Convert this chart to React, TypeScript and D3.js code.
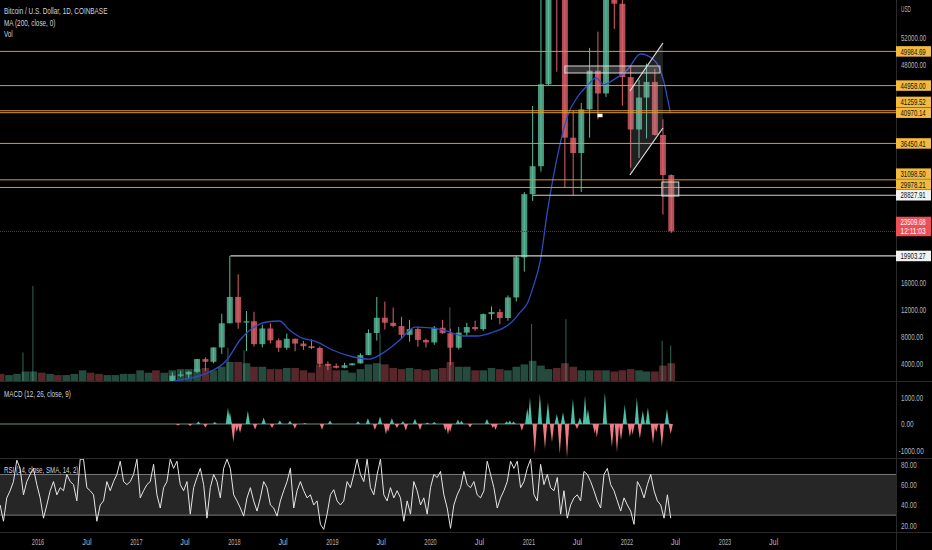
import React, { useLayoutEffect, useRef, useState } from 'react';
import * as d3 from 'd3';

// ---------------- DATA ----------------
// monthly OHLC (USD) + avg daily volume (K BTC)
const candles: [string, number, number, number, number, number][] = [
  ['2015-08', 284, 285, 199, 230, 6], ['2015-09', 230, 245, 225, 236, 5], ['2015-10', 236, 330, 236, 314, 6],
  ['2015-11', 314, 500, 300, 377, 8], ['2015-12', 377, 465, 350, 430, 8],
  ['2016-01', 430, 460, 365, 368, 7], ['2016-02', 368, 440, 365, 437, 6], ['2016-03', 437, 440, 395, 416, 5],
  ['2016-04', 416, 468, 412, 448, 5], ['2016-05', 448, 550, 440, 531, 6], ['2016-06', 531, 780, 530, 673, 9],
  ['2016-07', 673, 705, 610, 624, 7], ['2016-08', 624, 626, 480, 573, 6], ['2016-09', 573, 625, 565, 609, 5],
  ['2016-10', 609, 730, 605, 700, 5], ['2016-11', 700, 755, 685, 745, 6], ['2016-12', 745, 975, 745, 964, 6],
  ['2017-01', 964, 1150, 750, 965, 9], ['2017-02', 965, 1200, 940, 1190, 7], ['2017-03', 1190, 1300, 900, 1080, 9],
  ['2017-04', 1080, 1380, 1070, 1350, 7], ['2017-05', 1350, 2800, 1340, 2300, 9], ['2017-06', 2300, 3000, 2100, 2480, 10],
  ['2017-07', 2480, 2950, 1830, 2870, 10], ['2017-08', 2870, 4750, 2700, 4740, 10], ['2017-09', 4740, 5000, 2980, 4340, 11],
  ['2017-10', 4340, 6450, 4110, 6450, 9], ['2017-11', 6450, 11400, 5500, 10000, 12], ['2017-12', 10000, 19900, 10000, 13880, 16],
  ['2018-01', 13880, 17200, 9200, 10100, 16], ['2018-02', 10100, 11800, 5900, 10300, 15], ['2018-03', 10300, 11700, 6600, 6930, 12],
  ['2018-04', 6930, 9800, 6450, 9240, 12], ['2018-05', 9240, 9990, 7050, 7500, 10], ['2018-06', 7500, 7780, 5780, 6400, 10],
  ['2018-07', 6400, 8500, 6100, 7730, 11], ['2018-08', 7730, 7760, 5880, 7020, 11], ['2018-09', 7020, 7400, 6100, 6630, 9],
  ['2018-10', 6630, 7650, 6200, 6370, 7], ['2018-11', 6370, 6600, 3550, 4040, 14], ['2018-12', 4040, 4400, 3120, 3740, 13],
  ['2019-01', 3740, 4100, 3350, 3460, 9], ['2019-02', 3460, 4200, 3380, 3830, 9], ['2019-03', 3830, 4130, 3780, 4105, 7],
  ['2019-04', 4105, 5600, 4080, 5320, 10], ['2019-05', 5320, 9100, 5320, 8570, 14], ['2019-06', 8570, 13880, 7450, 10820, 15],
  ['2019-07', 10820, 13200, 9100, 10080, 14], ['2019-08', 10080, 12320, 9400, 9600, 11], ['2019-09', 9600, 10950, 7700, 8300, 10],
  ['2019-10', 8300, 10500, 7300, 9150, 11], ['2019-11', 9150, 9500, 6550, 7550, 10], ['2019-12', 7550, 7750, 6430, 7190, 9],
  ['2020-01', 7190, 9600, 6850, 9350, 10], ['2020-02', 9350, 10500, 8450, 8540, 11], ['2020-03', 8540, 9200, 3850, 6410, 16],
  ['2020-04', 6410, 9460, 6150, 8630, 12], ['2020-05', 8630, 10080, 8100, 9450, 12], ['2020-06', 9450, 10400, 8900, 9140, 9],
  ['2020-07', 9140, 11450, 8900, 11350, 9], ['2020-08', 11350, 12480, 10530, 11650, 11], ['2020-09', 11650, 12100, 9850, 10780, 10],
  ['2020-10', 10780, 14100, 10380, 13800, 9], ['2020-11', 13800, 19900, 13200, 19700, 12], ['2020-12', 19700, 29300, 17600, 28990, 14],
  ['2021-01', 28990, 41950, 28000, 33100, 17], ['2021-02', 33100, 58350, 32300, 45150, 13], ['2021-03', 45150, 61800, 45000, 58800, 10],
  ['2021-04', 58800, 64900, 47000, 57700, 11], ['2021-05', 57700, 59500, 30000, 37300, 15], ['2021-06', 37300, 41300, 28800, 35040, 12],
  ['2021-07', 35040, 42400, 29300, 41460, 9], ['2021-08', 41460, 50500, 37300, 47150, 9], ['2021-09', 47150, 52900, 40000, 43800, 9],
  ['2021-10', 43800, 67000, 43300, 61300, 9], ['2021-11', 61300, 69000, 53300, 57000, 8], ['2021-12', 57000, 59100, 42000, 46200, 9],
  ['2022-01', 46200, 47900, 32900, 38500, 10], ['2022-02', 38500, 45800, 34300, 43200, 9], ['2022-03', 43200, 48200, 37200, 45500, 8],
  ['2022-04', 45500, 47450, 37600, 37700, 8], ['2022-05', 37700, 40000, 26000, 31800, 13], ['2022-06', 31800, 31900, 23300, 23510, 15],
];

// single-day volume spikes (K BTC)
const volumeSpikes: [string, number][] = [
  ['2015-11-06', 24], ['2015-12-13', 80], ['2017-12-08', 28], ['2018-02-06', 26], ['2019-06-27', 40],
  ['2020-03-13', 62], ['2021-01-11', 48], ['2021-05-19', 52], ['2022-05-12', 34], ['2022-06-13', 30],
];

// MA(200)
const ma200: [string, number][] = [
  ['2017-03-01', 1000], ['2017-04-15', 1200], ['2017-06-12', 1650], ['2017-09-21', 2680], ['2017-12-04', 4600],
  ['2018-01-22', 7540], ['2018-03-10', 9300], ['2018-04-30', 10190], ['2018-06-18', 10340], ['2018-07-25', 9000],
  ['2018-09-01', 7980], ['2018-11-06', 7240], ['2019-01-01', 6070], ['2019-03-16', 5080], ['2019-05-19', 4740],
  ['2019-07-07', 5620], ['2019-09-09', 7540], ['2019-11-04', 9450], ['2020-01-10', 9300], ['2020-03-03', 8860],
  ['2020-05-02', 8130], ['2020-06-23', 8130], ['2020-08-22', 8720], ['2020-09-27', 9300], ['2020-10-25', 10030],
  ['2020-11-29', 11600], ['2020-12-27', 13000], ['2021-01-17', 15350], ['2021-02-13', 19300], ['2021-03-10', 26200],
  ['2021-04-02', 31550], ['2021-04-28', 36500], ['2021-05-24', 40400], ['2021-07-01', 43300], ['2021-08-07', 44950],
  ['2021-09-08', 46100], ['2021-10-06', 45100], ['2021-11-12', 45800], ['2022-01-03', 47300], ['2022-02-21', 49600],
  ['2022-04-10', 48800], ['2022-05-13', 46300], ['2022-06-12', 40900],
];

// MACD histogram peaks
const macdHist: [string, number][] = [
  ['2017-06-05', -60], ['2017-07-20', -80], ['2017-08-20', 90], ['2017-09-15', -130], ['2017-10-20', 80],
  ['2017-12-08', 620], ['2017-12-15', 450], ['2017-12-28', -690], ['2018-01-10', -300], ['2018-01-22', -340],
  ['2018-02-20', 500], ['2018-03-19', -210], ['2018-04-20', 250], ['2018-05-21', -150], ['2018-06-19', 130],
  ['2018-07-27', 120], ['2018-08-14', -180], ['2018-09-20', 40], ['2018-11-23', -220], ['2018-12-23', 130],
  ['2019-04-06', 100], ['2019-05-13', 220], ['2019-06-08', -230], ['2019-06-27', 280], ['2019-07-19', -400],
  ['2019-07-27', -300], ['2019-08-10', 220], ['2019-08-29', -150], ['2019-09-20', 100], ['2019-10-01', -250],
  ['2019-11-04', 200], ['2019-11-23', -230], ['2019-12-20', 60], ['2020-01-15', 80], ['2020-02-25', -250],
  ['2020-03-06', -400], ['2020-03-14', -300], ['2020-04-12', 170], ['2020-04-25', 120], ['2020-05-27', -130],
  ['2020-07-29', 190], ['2020-08-20', -150], ['2020-08-30', -230], ['2020-10-10', 100], ['2020-10-22', 130],
  ['2020-11-05', 90], ['2020-12-06', -250], ['2020-12-26', 600], ['2021-01-05', 1000], ['2021-01-23', -1120],
  ['2021-02-11', 1150], ['2021-03-02', -940], ['2021-03-13', 840], ['2021-03-28', -690], ['2021-04-15', 380],
  ['2021-04-26', -1130], ['2021-05-08', 440], ['2021-05-23', -1280], ['2021-06-14', 950], ['2021-06-29', -190],
  ['2021-07-10', 250], ['2021-07-29', 1080], ['2021-08-09', 560], ['2021-09-03', -350], ['2021-09-11', -500],
  ['2021-10-11', 1200], ['2021-11-06', -880], ['2021-11-25', -1070], ['2021-12-10', -600], ['2021-12-24', 730],
  ['2022-01-12', -500], ['2022-01-22', -400], ['2022-02-07', 1000], ['2022-02-18', -560], ['2022-03-01', 500],
  ['2022-03-20', 630], ['2022-04-08', -750], ['2022-04-20', -300], ['2022-05-11', -880], ['2022-05-30', 570],
  ['2022-06-13', -380],
];

// RSI sampled at even intervals from RSI_START to RSI_END
const RSI_START = '2015-08-13';
const RSI_END = '2022-06-13';
const rsiValues: number[] = [
  40, 24, 47, 54, 63, 84, 76, 50, 63, 70, 76, 60, 47, 27, 40, 54, 63, 50, 57, 54, 70, 63, 60, 44, 85, 85, 57, 54, 50, 24,
  40, 44, 63, 54, 63, 70, 83, 63, 60, 63, 70, 85, 47, 54, 60, 63, 80, 50, 37, 57, 63, 85, 76, 83, 60, 54, 63, 31, 57, 67,
  76, 60, 27, 57, 70, 63, 47, 76, 85, 76, 50, 44, 37, 29, 47, 57, 44, 34, 47, 63, 57, 40, 37, 29, 44, 54, 63, 76, 37, 54,
  63, 54, 47, 50, 40, 44, 21, 16, 31, 50, 55, 44, 40, 44, 63, 57, 70, 85, 70, 63, 85, 57, 50, 70, 85, 50, 44, 57, 47, 54,
  47, 24, 44, 31, 63, 54, 40, 47, 31, 57, 70, 67, 73,
  50, 37, 17, 40, 50, 57, 73, 60, 57, 63, 50, 47, 54, 83, 70, 57, 37, 47, 54, 63, 83, 76, 83, 57, 63, 76, 85, 50, 44, 80,
  60, 70, 57, 54, 67, 31, 54, 27, 40, 47, 50, 44, 73, 70, 63, 54, 44, 37, 70, 76, 60, 54, 44, 34, 47, 40, 34, 21, 63, 57,
  47, 60, 70, 54, 44, 40, 27, 50, 27,
];

// horizontal level drawings
const orangeLevels: number[] = [49984.69, 44958.0, 41259.52, 40970.14, 36450.41, 31098.5, 29978.21];
const whiteLevels: [number, string][] = [[28827.91, '2021-01-16'], [19903.27, '2017-12-17']];
const lastPrice = 23509.68;
const countdown = '12:11:03';
const priceTicks = [4000, 8000, 12000, 16000, 20000, 24000, 28000, 32000, 36000, 40000, 44000, 48000, 52000];
const macdTicks = [1000, 0, -1000];
const rsiTicks = [80, 60, 40, 20];
const timeTicks: [string, string][] = [
  ['2016-01-01', '2016'], ['2016-07-01', 'Jul'], ['2017-01-01', '2017'], ['2017-07-01', 'Jul'],
  ['2018-01-01', '2018'], ['2018-07-01', 'Jul'], ['2019-01-01', '2019'], ['2019-07-01', 'Jul'],
  ['2020-01-01', '2020'], ['2020-07-01', 'Jul'], ['2021-01-01', '2021'], ['2021-07-01', 'Jul'],
  ['2022-01-01', '2022'], ['2022-07-01', 'Jul'], ['2023-01-01', '2023'], ['2023-07-01', 'Jul'],
];
// rectangle drawings [start, end, top price, bottom price]
const boxes: [string, string, number, number][] = [
  ['2021-05-15', '2022-05-04', 47840, 46810],
  ['2022-05-11', '2022-07-13', 30780, 28720],
];
// parallel channel: [start, end, upper start, upper end, lower start, lower end]
const channel: [string, string, number, number, number, number] = ['2022-01-12', '2022-05-15', 44160, 51220, 31810, 38720];
const flagMark: [string, number] = ['2021-09-21', 40600];

// ---------------- LAYOUT ----------------
const W = 932, H = 550;
const AX = 896;
const P_TOP = 0, P_BOT = 381;
const M_TOP = 382, M_BOT = 458;
const R_TOP = 459, R_BOT = 532;
const FONT = "'Liberation Sans', Arial, sans-serif";
const UP = '#5bbb9c', DN = '#dd626b';
const ORANGE = '#d9992f', ORANGE_LBL = '#f3bb3e';
const TXT = '#b2b5be';
const FS = 9;

const parse = d3.timeParse('%Y-%m-%d');
const D = (s: string) => parse(s) as Date;

// condensed text: glyphs are scaled horizontally so the string takes s.length * k pixels
function T(props: { x: number; y: number; s: string; k?: number; fill?: string; anchor?: string; size?: number }) {
  const { x, y, s, k = 3.15, fill, anchor, size = FS } = props;
  const ref = useRef<SVGTextElement>(null);
  const [sx, setSx] = useState(0.68);
  useLayoutEffect(() => {
    const el = ref.current;
    if (el) {
      const L = el.getComputedTextLength();
      if (L > 0) setSx((s.length * k) / L);
    }
  }, [s, k, size]);
  return (
    <text ref={ref} transform={`translate(${x},${y}) scale(${sx},1)`} fill={fill} fontSize={size}
      textAnchor={anchor as any}>{s}</text>
  );
}

export default function App() {
  const x = d3.scaleTime().domain([D('2016-01-01'), D('2023-01-01')]).range([38, 725]);
  const yP = d3.scaleLinear().domain([0, 57544]).range([391.3, 0]);
  const yV = d3.scaleLinear().domain([0, 80]).range([P_BOT, 286]);
  const yM = d3.scaleLinear().domain([-1000, 1000]).range([450.5, 397.5]);
  const yR = d3.scaleLinear().domain([20, 80]).range([525.3, 464.3]);

  const monthMid = (m: string) => D(m + '-15');
  const bodyW = 6;

  const maLine = d3.line<[string, number]>().x(d => x(D(d[0]))).y(d => yP(d[1])).curve(d3.curveMonotoneX)(ma200) || '';

  const t0 = D(RSI_START).getTime(), t1 = D(RSI_END).getTime();
  const n = rsiValues.length;
  const rsiPath = d3.line<number>()
    .x((_, i) => x(new Date(t0 + (i * (t1 - t0)) / (n - 1))))
    .y(d => yR(d))(rsiValues) || '';

  // label layout (collision avoidance bottom-up)
  type Lbl = { v: number; kind: 'o' | 'w'; y: number; h: number };
  const lbls: Lbl[] = [
    ...orangeLevels.map(v => ({ v, kind: 'o' as const, y: yP(v), h: 10.5 })),
    ...whiteLevels.map(([v]) => ({ v, kind: 'w' as const, y: yP(v), h: 10.5 })),
  ].sort((a, b) => b.y - a.y);
  const redTop = yP(lastPrice) - 14.7;
  const redH = 19.5;
  let floor = redTop;
  for (const l of lbls) {
    if (l.y < yP(lastPrice)) {
      const maxC = floor - l.h / 2 - 0.3;
      if (l.y > maxC) l.y = maxC;
      floor = l.y - l.h / 2;
    }
  }
  const occupied: [number, number][] = [
    ...lbls.map(l => [l.y - l.h / 2, l.y + l.h / 2] as [number, number]),
    [redTop, redTop + redH],
  ];
  const free = (yy: number) => occupied.every(([a, b]) => yy + 3 < a || yy - 3 > b);

  const dayMs = 86400000;
  const hw = 8 * dayMs;

  return (
    <svg width={W} height={H} style={{ position: 'fixed', left: 0, top: 0, background: '#000', fontFamily: FONT }}>
      <defs>
        <clipPath id="cp"><rect x={0} y={P_TOP} width={AX} height={P_BOT - P_TOP} /></clipPath>
        <clipPath id="cm"><rect x={0} y={M_TOP} width={AX} height={M_BOT - M_TOP} /></clipPath>
        <clipPath id="cr"><rect x={0} y={R_TOP} width={AX} height={R_BOT - R_TOP} /></clipPath>
      </defs>
      <rect x={0} y={0} width={W} height={H} fill="#000" />

      {/* PRICE PANE */}
      <g clipPath="url(#cp)">
        {candles.map(([m, o, , , c, v]) => {
          const cx = x(monthMid(m));
          return <rect key={'v' + m} x={cx - 3.8} width={7.6} y={yV(v)} height={P_BOT - yV(v)} fill={c >= o ? UP : DN} opacity={0.4} />;
        })}
        {volumeSpikes.map(([d, v]) => (
          <line key={'s' + d} x1={x(D(d))} x2={x(D(d))} y1={yV(v)} y2={P_BOT} stroke={UP} strokeOpacity={0.55} strokeWidth={1} />
        ))}
        {candles.map(([m, o, h, l, c]) => {
          const cx = x(monthMid(m));
          const col = c >= o ? UP : DN;
          const top = yP(Math.max(o, c));
          return (
            <g key={'c' + m}>
              <line x1={cx} x2={cx} y1={yP(h)} y2={yP(l)} stroke={col} strokeWidth={1} />
              <rect x={cx - bodyW / 2} width={bodyW} y={top} height={Math.max(1, Math.abs(yP(o) - yP(c)))} fill={col} fillOpacity={0.8} />
            </g>
          );
        })}
        <path d={maLine} fill="none" stroke="#2d4cc0" strokeWidth={1.3} />

        {orangeLevels.map(v => (
          <line key={'o' + v} x1={0} x2={AX} y1={yP(v)} y2={yP(v)} stroke={ORANGE} strokeWidth={1} />
        ))}
        {whiteLevels.map(([v, d]) => (
          <line key={'w' + v} x1={x(D(d))} x2={AX} y1={yP(v)} y2={yP(v)} stroke="#cfcfcf" strokeWidth={1.2} />
        ))}
        <line x1={0} x2={AX} y1={yP(lastPrice)} y2={yP(lastPrice)} stroke="#8a2a2e" strokeWidth={1} strokeDasharray="1 1" />

        {boxes.map(([s, e, top, bot]) => (
          <rect key={'b' + s} x={x(D(s))} y={yP(top)} width={x(D(e)) - x(D(s))} height={yP(bot) - yP(top)}
            fill="rgba(180,180,180,0.28)" stroke="#d8d8d8" strokeWidth={1} />
        ))}
        {(() => {
          const [s, e, u0, u1, l0, l1] = channel;
          const xs = x(D(s)), xe = x(D(e));
          return (
            <g>
              <path d={`M${xs},${yP(u0)}L${xe},${yP(u1)}L${xe},${yP(l1)}L${xs},${yP(l0)}Z`} fill="rgba(160,160,160,0.2)" />
              <line x1={xs} y1={yP(u0)} x2={xe} y2={yP(u1)} stroke="#e0e0e0" strokeWidth={1.2} />
              <line x1={xs} y1={yP(l0)} x2={xe} y2={yP(l1)} stroke="#e0e0e0" strokeWidth={1.2} />
            </g>
          );
        })()}
        <rect x={x(D(flagMark[0])) - 2} y={yP(flagMark[1]) - 1.5} width={5} height={3.5} fill="#fff" />
      </g>

      {/* MACD PANE */}
      <g clipPath="url(#cm)">
        <line x1={0} x2={x(D(RSI_END))} y1={yM(0)} y2={yM(0)} stroke="#5c9088" strokeWidth={1} />
        {macdHist.map(([d, v]) => {
          const t = D(d).getTime();
          const xa = x(new Date(t - hw)), xc = x(new Date(t)), xb = x(new Date(t + hw));
          return <path key={'m' + d} d={`M${xa},${yM(0)}L${xc},${yM(v)}L${xb},${yM(0)}Z`} fill={v >= 0 ? '#4cc2a8' : '#ee7c85'} />;
        })}
      </g>

      {/* RSI PANE */}
      <g clipPath="url(#cr)">
        <rect x={0} y={yR(70)} width={AX} height={yR(30) - yR(70)} fill="#262626" />
        <line x1={0} x2={AX} y1={yR(70)} y2={yR(70)} stroke="#7a7a7a" strokeWidth={1} />
        <line x1={0} x2={AX} y1={yR(30)} y2={yR(30)} stroke="#7a7a7a" strokeWidth={1} />
        <path d={rsiPath} fill="none" stroke="#e6e6e6" strokeWidth={1} />
      </g>

      {/* pane separators */}
      <line x1={0} x2={W} y1={P_BOT + 0.5} y2={P_BOT + 0.5} stroke="#2a2a2a" />
      <line x1={0} x2={W} y1={M_BOT + 0.5} y2={M_BOT + 0.5} stroke="#2a2a2a" />
      <line x1={0} x2={W} y1={R_BOT + 0.5} y2={R_BOT + 0.5} stroke="#2a2a2a" />
      <line x1={AX + 0.5} x2={AX + 0.5} y1={0} y2={H} stroke="#2a2a2a" />

      {/* legends */}
      <g fill="#d1d4dc">
        <T x={4} y={14} s="Bitcoin / U.S. Dollar, 1D, COINBASE" k={2.95} size={8.5} />
        <T x={4} y={25.5} s="MA (200, close, 0)" k={2.85} size={8.5} />
        <T x={4} y={36.5} s="Vol" k={2.9} size={8.5} />
        <T x={4} y={396.5} s="MACD (12, 26, close, 9)" k={2.9} size={8.5} />
        <T x={4} y={473} s="RSI (14, close, SMA, 14, 2)" k={2.75} size={8.5} />
      </g>

      {/* right axis */}
      <g fill={TXT}>
        <T x={901} y={12} s="USD" k={3.3} />
        {priceTicks.filter(t => free(yP(t))).map(t => <T key={'pt' + t} x={901} y={yP(t) + 3.2} s={t.toFixed(2)} />)}
        {macdTicks.map(t => <T key={'mt' + t} x={t < 0 ? 898.5 : 901} y={yM(t) + 3.2} s={t.toFixed(2)} />)}
        {rsiTicks.map(t => <T key={'rt' + t} x={901} y={yR(t) + 3.2} s={t.toFixed(2)} />)}
      </g>
      {lbls.map(l => (
        <g key={'l' + l.v}>
          <rect x={AX} y={l.y - l.h / 2} width={35} height={l.h} fill={l.kind === 'o' ? ORANGE_LBL : '#f2f2f2'} />
          <T x={900.5} y={l.y + 3.2} s={l.v.toFixed(2)} fill="#131313" />
        </g>
      ))}
      <rect x={AX} y={redTop} width={35} height={redH} fill="#ee4f55" />
      <T x={900.5} y={redTop + 8.4} s={lastPrice.toFixed(2)} fill="#fff" />
      <T x={900.5} y={redTop + 17.4} s={countdown} fill="#fff" />

      {/* time axis */}
      <g fill={TXT}>
        {timeTicks.map(([d, s]) => <T key={'tt' + d} x={x(D(d))} y={544.5} s={s} k={3.1} anchor="middle" />)}
      </g>
    </svg>
  );
}
